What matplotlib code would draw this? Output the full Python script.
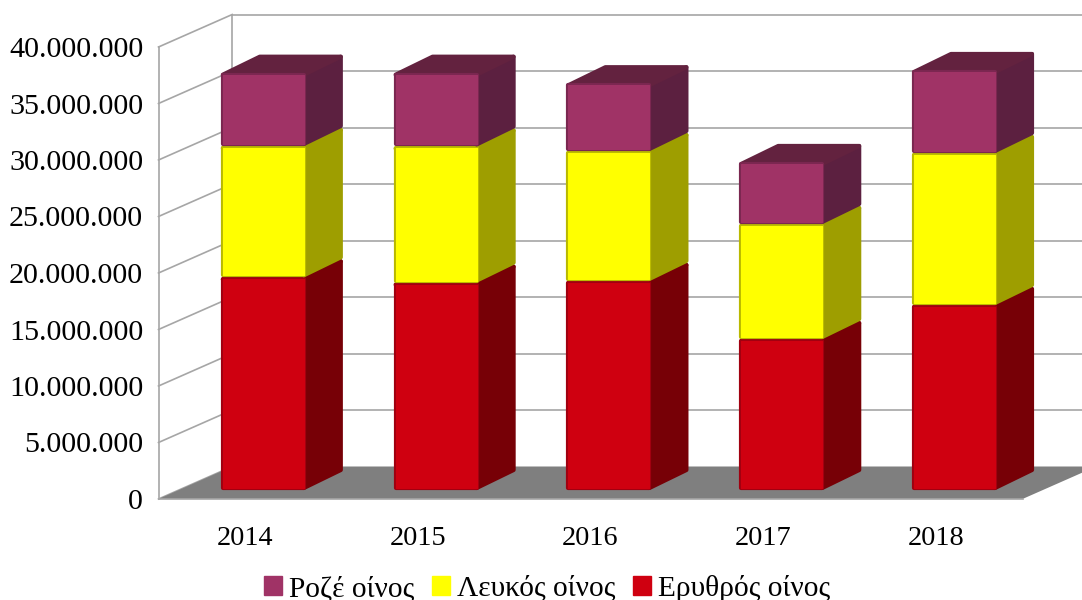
import matplotlib
matplotlib.use("Agg")
from matplotlib import pyplot as plt
from matplotlib.patches import Patch, Polygon
from matplotlib.ticker import FuncFormatter

years = ["2014", "2015", "2016", "2017", "2018"]
red_wine = [18820000, 18350000, 18500000, 13360000, 16370000]
white_wine = [11620000, 12050000, 11500000, 10180000, 13450000]
rose_wine = [6490000, 6530000, 6000000, 5490000, 7350000]
y_ticks = [0, 5000000, 10000000, 15000000, 20000000, 25000000, 30000000, 35000000, 40000000]

plt.rcParams["font.family"] = ["Liberation Serif", "DejaVu Serif"]

PX_X = 172.8  # pixels per category
PX_Y = 56.5 / 5000000  # pixels per unit of value


def px_x(p):
    return p / PX_X


def px_y(p):
    return p / PX_Y


fig = plt.figure(figsize=(10.82, 6), dpi=100)
ax = fig.add_axes([158.5 / 1082, 101 / 600, 864 / 1082, 452 / 600])
ax.set_xlim(0, 5)
ax.set_ylim(0, 40000000)
ax.patch.set_visible(False)
for s in ["top", "right", "bottom"]:
    ax.spines[s].set_visible(False)
ax.spines["left"].set_color("#a6a6a6")
ax.spines["left"].set_linewidth(1.2)

# walls and floor
wall_dx = px_x(73.7)
wall_dy = px_y(32.5)
grid_col = "#a6a6a6"
ax.add_patch(Polygon([(0, 0), (5, 0), (5 + wall_dx, wall_dy), (wall_dx, wall_dy)],
                     facecolor="#7f7f7f", edgecolor="none", clip_on=False, zorder=1))
ax.plot([0, 5], [0, 0], color="#a6a6a6", lw=1.2, clip_on=False, zorder=1.5)
ax.plot([wall_dx, wall_dx], [wall_dy, 40000000 + wall_dy], color=grid_col, lw=1.2,
        clip_on=False, zorder=0.5)
for t in y_ticks:
    ax.plot([0, wall_dx], [t, t + wall_dy], color=grid_col, lw=1.2, clip_on=False, zorder=0.5)
    if t > 0:
        ax.plot([wall_dx, 5 + wall_dx], [t + wall_dy, t + wall_dy], color=grid_col, lw=1.2,
                clip_on=False, zorder=0.5)

# face, edge, side, top colours of each stacked part
series = [
    (red_wine, "#cf0010", "#a00010", "#770006", "#770006"),
    (white_wine, "#ffff00", "#b9b900", "#9e9e00", "#9e9e00"),
    (rose_wine, "#a03366", "#7a2750", "#5c2040", "#63223f"),
]

bar_w = px_x(85)
shift_x = px_x(18.4)
base = px_y(9)
depth_x = px_x(37)
depth_y = px_y(18)
# the round stroke adds this much outside the shapes
gap_x = px_x(2)
gap_y = px_y(2)

z = 2
for i in range(len(years)):
    center = i + 0.5 + shift_x
    left = center - bar_w / 2 + gap_x
    right = center + bar_w / 2 - gap_x
    bottom = base
    for values, face, edge, side, top in series:
        h = values[i]
        lo = bottom + gap_y
        hi = bottom + h - gap_y
        ax.add_patch(Polygon([(right, lo), (right + depth_x, lo + depth_y),
                              (right + depth_x, hi + depth_y), (right, hi)],
                             facecolor=side, edgecolor=side, lw=3, joinstyle="round",
                             clip_on=False, zorder=z))
        ax.add_patch(Polygon([(left, hi), (right, hi), (right + depth_x, hi + depth_y),
                              (left + depth_x, hi + depth_y)],
                             facecolor=top, edgecolor=top, lw=3, joinstyle="round",
                             clip_on=False, zorder=z))
        ax.bar(center, hi - lo, right - left, bottom=lo, color=face, edgecolor=edge,
               linewidth=3, joinstyle="round", clip_on=False, zorder=z + 0.4)
        ax.bar(center, hi - lo, right - left, bottom=lo, color=face, edgecolor=face,
               linewidth=0.8, joinstyle="round", clip_on=False, zorder=z + 0.5)
        bottom += h
        z += 1

ax.set_yticks(y_ticks)
ax.yaxis.set_major_formatter(FuncFormatter(lambda v, _: f"{v:,.0f}".replace(",", ".")))
ax.set_xticks([i + 0.5 for i in range(len(years))])
ax.set_xticklabels(years)
ax.tick_params(axis="y", length=0, pad=11, labelsize=21.6)
ax.tick_params(axis="x", length=0, pad=19.5, labelsize=20.3)

handles = [Patch(facecolor="#a03366", edgecolor="#a03366"),
           Patch(facecolor="#ffff00", edgecolor="#ffff00"),
           Patch(facecolor="#cf0010", edgecolor="#cf0010")]
fig.legend(handles, ["Ροζέ οίνος", "Λευκός οίνος", "Ερυθρός οίνος"], ncols=3,
           loc="lower center", bbox_to_anchor=(547 / 1082, -0.033), frameon=False, fontsize=21.2,
           handlelength=0.61, handleheight=0.61, handletextpad=0.24, columnspacing=0.6,
           borderpad=0.1)

plt.savefig("out.png", dpi=100)
